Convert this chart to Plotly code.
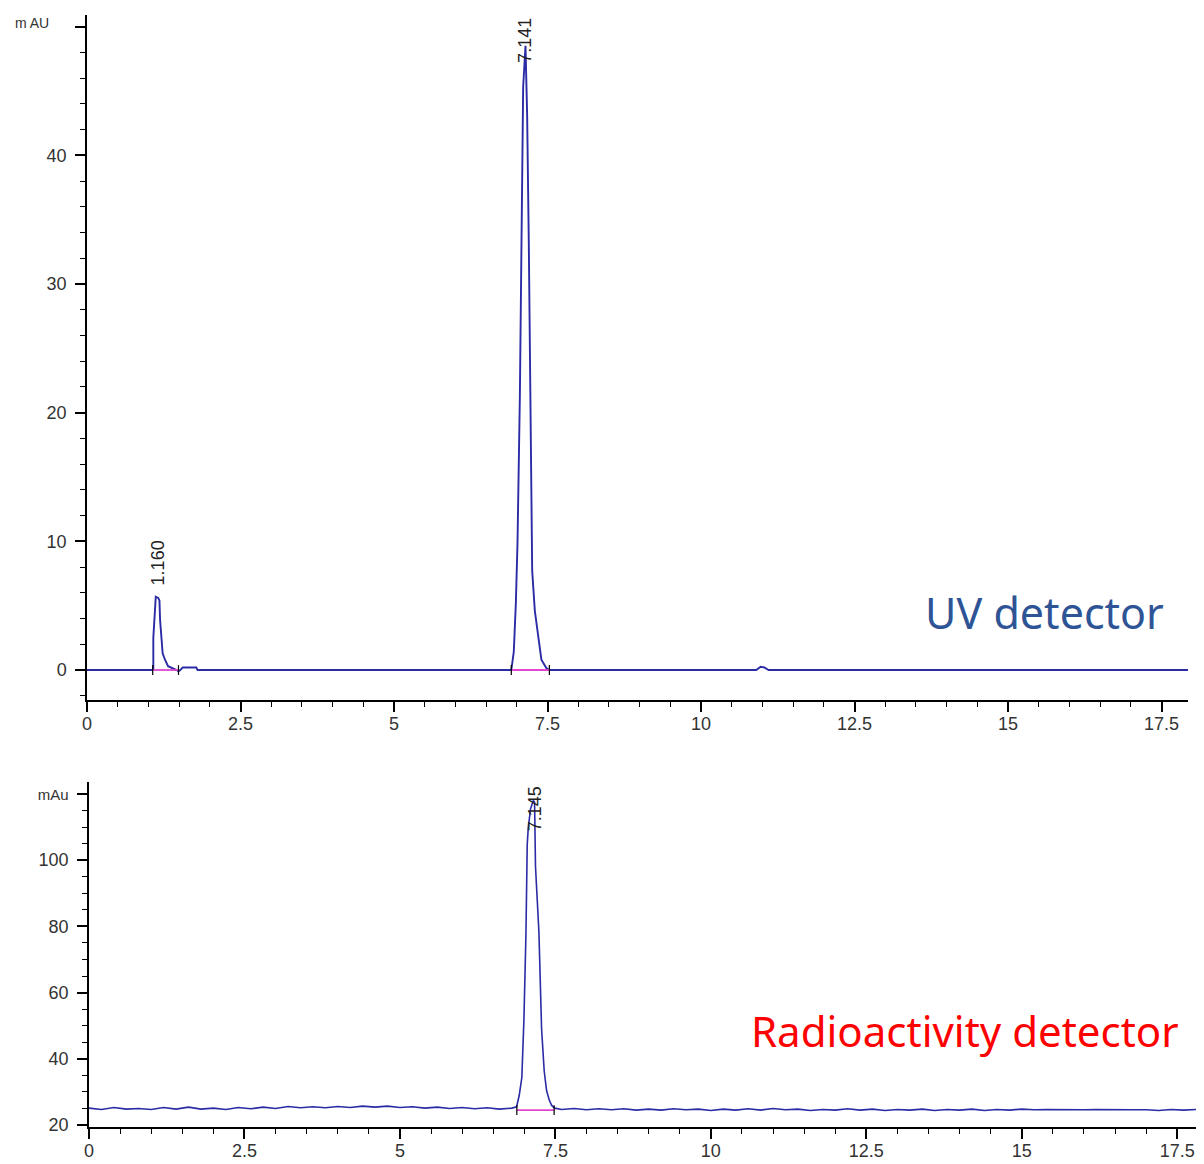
import plotly.graph_objects as go

# ---------------- data ----------------
# UV chromatogram (time in min, signal in mAU)
uv_time = [0.0, 1.05, 1.08, 1.08, 1.12, 1.16, 1.18, 1.19, 1.232, 1.27, 1.32, 1.46, 1.49,
           1.52, 1.56, 1.78, 1.80, 6.91, 6.95, 6.984, 7.011, 7.049, 7.076, 7.103, 7.141,
           7.168, 7.195, 7.223, 7.25, 7.293, 7.347, 7.40, 7.48, 7.53, 10.90, 10.97, 11.03,
           11.10, 17.93]
uv_signal = [0.0, 0.0, 0.0, 2.5, 5.7, 5.6, 5.4, 3.9, 1.3, 0.8, 0.3, 0.0, -0.1,
             0.0, 0.2, 0.2, 0.0, 0.0, 1.4, 5.2, 9.9, 21.2, 34.7, 45.3, 48.5,
             43.1, 33.1, 16.9, 7.7, 4.6, 2.7, 0.8, 0.15, 0.0, 0.0, 0.25, 0.2,
             0.0, 0.0]

# Radioactivity chromatogram
radio_time = [0.0, 0.2, 0.4, 0.6, 0.8, 1.0, 1.2, 1.4, 1.6, 1.8, 2.0, 2.2, 2.4, 2.6, 2.8,
              3.0, 3.2, 3.4, 3.6, 3.8, 4.0, 4.2, 4.4, 4.6, 4.8, 5.0, 5.2, 5.4, 5.6, 5.8,
              6.0, 6.2, 6.4, 6.6, 6.8,
              6.876, 6.918, 6.96, 6.994, 7.026, 7.047, 7.063, 7.10, 7.145, 7.165, 7.18,
              7.235, 7.278, 7.32, 7.358, 7.40, 7.44, 7.49,
              7.6, 7.8, 8.0, 8.2, 8.4, 8.6, 8.8, 9.0, 9.2, 9.4, 9.6, 9.8, 10.0, 10.2,
              10.4, 10.6, 10.8, 11.0, 11.2, 11.4, 11.6, 11.8, 12.0, 12.2, 12.4, 12.6,
              12.8, 13.0, 13.2, 13.4, 13.6, 13.8, 14.0, 14.2, 14.4, 14.6, 14.8, 15.0,
              15.2, 15.4, 15.6, 15.8, 16.0, 16.2, 16.4, 16.6, 16.8, 17.0, 17.2, 17.4,
              17.6, 17.8, 17.93]
radio_signal = [25.1, 24.7, 25.3, 24.8, 25.0, 24.7, 25.3, 24.8, 25.4, 24.8, 25.1, 24.7,
                25.3, 24.9, 25.4, 25.0, 25.6, 25.2, 25.5, 25.2, 25.6, 25.3, 25.7, 25.4,
                25.7, 25.3, 25.5, 25.1, 25.4, 25.0, 25.3, 24.9, 25.2, 24.8, 25.1,
                25.5, 28.9, 34.3, 51.9, 77.3, 104.7, 109.6, 115.5, 118.0, 117.5, 98.0,
                78.3, 49.0, 36.3, 30.4, 27.6, 25.9, 25.1,
                24.7, 25.0, 24.6, 24.9, 24.6, 24.9, 24.5, 24.8, 24.5, 24.9, 24.6, 24.8,
                24.4, 24.8, 24.5, 24.9, 24.5, 25.0, 24.6, 24.8, 24.4, 24.7, 24.5, 24.9,
                24.5, 24.8, 24.4, 24.7, 24.5, 24.8, 24.4, 24.7, 24.5, 24.8, 24.4, 24.7,
                24.5, 24.8, 24.6, 24.7, 24.6, 24.6, 24.6, 24.7, 24.6, 24.6, 24.6, 24.6,
                24.4, 24.7, 24.5, 24.7, 24.4, 24.7, 24.6]

# integration baselines (start, end) and levels
uv_base_segments = [(1.07, 1.49), (6.91, 7.53)]
radio_base_segments = [(6.88, 7.48)]
radio_base_level = 24.5

# peak labels
uv_peaks = [(1.160, 5.7, "1.160"), (7.141, 48.5, "7.141")]
radio_peaks = [(7.145, 118.0, "7.145")]

uv_yticks = [0, 10, 20, 30, 40, 50]
uv_ytext = ["0", "10", "20", "30", "40", ""]
uv_unit = "m AU"
radio_yticks = [20, 40, 60, 80, 100, 120]
radio_ytext = ["20", "40", "60", "80", "100", "<span style='font-size:15px'>mAu</span>"]

# ---------------- figure ----------------
# page body has an 8px default margin: lay out in page pixels, convert to paper
OFF = 8
W, H = 1196, 1156


def fx(px):
    return (px - OFF) / W


def fy(py):
    return 1 - (py - OFF) / H


LINE = "#2B2BA6"
PINK = "#E046CF"
TICKFONT = dict(family="Liberation Sans, Arial, sans-serif", size=18, color="#333333")

fig = go.Figure()

fig.add_trace(go.Scatter(x=uv_time, y=uv_signal, mode="lines",
                         line=dict(color=LINE, width=1.9), xaxis="x", yaxis="y",
                         showlegend=False))
for s, e in uv_base_segments:
    fig.add_trace(go.Scatter(x=[s, e], y=[0, 0], mode="lines+markers",
                             line=dict(color=PINK, width=1.8),
                             marker=dict(symbol="line-ns", size=7,
                                         line=dict(color="black", width=1.2)),
                             xaxis="x", yaxis="y", showlegend=False))

fig.add_trace(go.Scatter(x=radio_time, y=radio_signal, mode="lines",
                         line=dict(color=LINE, width=1.6), xaxis="x2", yaxis="y2",
                         showlegend=False))
for s, e in radio_base_segments:
    fig.add_trace(go.Scatter(x=[s, e], y=[radio_base_level, radio_base_level],
                             mode="lines+markers",
                             line=dict(color=PINK, width=1.8),
                             marker=dict(symbol="line-ns", size=7,
                                         line=dict(color="black", width=1.2)),
                             xaxis="x2", yaxis="y2", showlegend=False))

axis_common = dict(showline=True, linecolor="black", linewidth=1.5, ticks="outside",
                   ticklen=10, tickwidth=1.5, tickcolor="black", showgrid=False,
                   zeroline=False, tickfont=TICKFONT, automargin=False)

annotations = []
for t, v, lab in uv_peaks:
    annotations.append(dict(x=t, y=v, xref="x", yref="y", text=lab, showarrow=False,
                            textangle=-90, yanchor="bottom", xanchor="center",
                            yshift=(9 if v < 10 else -19),
                            font=dict(family="Liberation Sans, Arial", size=18,
                                      color="#222222")))
for t, v, lab in radio_peaks:
    annotations.append(dict(x=t, y=v, xref="x2", yref="y2", text=lab, showarrow=False,
                            textangle=-90, yanchor="bottom", xanchor="center",
                            yshift=-33, xshift=2,
                            font=dict(family="Liberation Sans, Arial", size=18,
                                      color="#222222")))
annotations.append(dict(x=fx(51), y=fy(23), xref="paper", yref="paper",
                        text=uv_unit, showarrow=False, xanchor="right",
                        yanchor="middle",
                        font=dict(family="Liberation Sans, Arial", size=14,
                                  color="#333333")))
annotations.append(dict(x=fx(1166), y=fy(612), xref="paper", yref="paper",
                        text="UV detector", showarrow=False, xanchor="right",
                        yanchor="middle",
                        font=dict(family="Noto Sans", size=43, color="#2F5496")))
annotations.append(dict(x=fx(1181), y=fy(1030), xref="paper", yref="paper",
                        text="Radioactivity detector", showarrow=False, xanchor="right",
                        yanchor="middle",
                        font=dict(family="Noto Sans", size=42, color="#FF0000")))

fig.update_layout(
    width=W, height=H,
    margin=dict(l=0, r=0, t=0, b=0, autoexpand=False),
    paper_bgcolor="white", plot_bgcolor="white",
    xaxis=dict(domain=[fx(87), fx(1188)], range=[0, 17.93], anchor="y",
               tickmode="linear", tick0=0, dtick=2.5,
               minor=dict(tickmode="linear", tick0=0, dtick=0.5, ticks="outside",
                          ticklen=5, tickwidth=1.2, tickcolor="black"),
               ticklabelstandoff=-3, **axis_common),
    yaxis=dict(domain=[fy(700), fy(15)], range=[-2.33, 50.9], anchor="x",
               tickmode="array", tickvals=uv_yticks, ticktext=uv_ytext,
               minor=dict(tickmode="linear", tick0=0, dtick=2, ticks="outside",
                          ticklen=5, tickwidth=1.2, tickcolor="black"),
               ticklabelstandoff=5, **axis_common),
    xaxis2=dict(domain=[fx(89), 1.0], range=[0, 17.93], anchor="y2",
                tickmode="linear", tick0=0, dtick=2.5,
                minor=dict(tickmode="linear", tick0=0, dtick=0.5, ticks="outside",
                           ticklen=5, tickwidth=1.2, tickcolor="black"),
                ticklabelstandoff=-3, **axis_common),
    yaxis2=dict(domain=[fy(1127), fy(782)], range=[19.4, 123.6],
                anchor="x2", tickmode="array", tickvals=radio_yticks,
                ticktext=radio_ytext,
                minor=dict(tickmode="linear", tick0=20, dtick=5, ticks="outside",
                           ticklen=5, tickwidth=1.2, tickcolor="black"),
                ticklabelstandoff=5, **axis_common),
    annotations=annotations,
)

fig.write_html("out.html")
